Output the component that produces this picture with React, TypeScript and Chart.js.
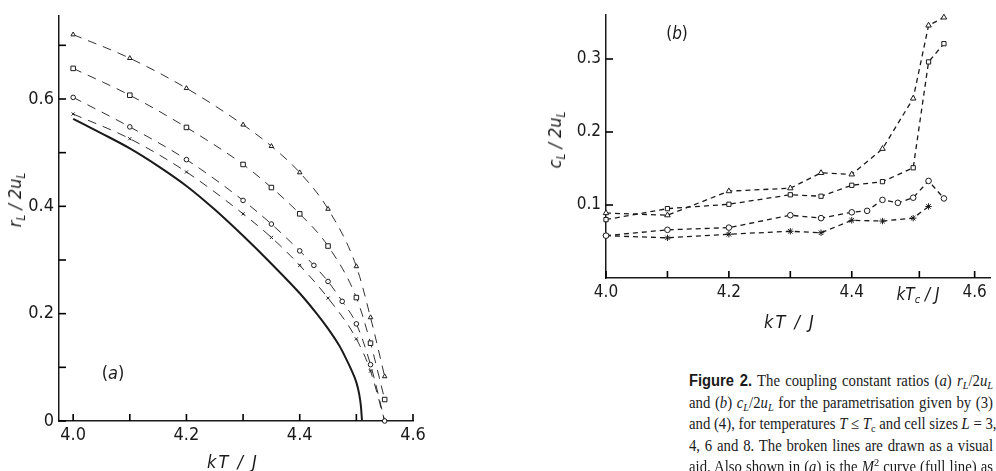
import React, { useEffect, useRef } from "react";
import { Chart, registerables } from "chart.js";
Chart.register(...registerables);

// ---------- Panel (a): r_L / 2u_L ----------
const xA = [4.0, 4.1, 4.2, 4.3, 4.35, 4.4, 4.45, 4.5, 4.525, 4.55];
const aL8 = [0.72, 0.676, 0.62, 0.552, 0.512, 0.463, 0.395, 0.288, 0.193, 0.083];
const aL6 = [0.657, 0.607, 0.547, 0.478, 0.435, 0.386, 0.326, 0.23, 0.145, 0.04];
const xA4 = [4.0, 4.1, 4.2, 4.3, 4.35, 4.4, 4.425, 4.45, 4.475, 4.5, 4.525, 4.55];
const aL4 = [0.603, 0.548, 0.487, 0.411, 0.367, 0.317, 0.29, 0.26, 0.223, 0.181, 0.105, 0.0];
const aL3 = [0.572, 0.526, 0.464, 0.386, 0.342, 0.29, 0.229, 0.153, 0.093, 0.0];
const xM2 = [4.0, 4.05, 4.1, 4.15, 4.2, 4.25, 4.3, 4.35, 4.4, 4.43, 4.45, 4.47, 4.48, 4.49, 4.5, 4.505, 4.508, 4.51];
const yM2 = [0.563, 0.536, 0.508, 0.475, 0.438, 0.394, 0.345, 0.293, 0.238, 0.2, 0.172, 0.14, 0.12, 0.098, 0.072, 0.05, 0.028, 0.0];
const xTicksA = [4.0, 4.1, 4.2, 4.3, 4.4, 4.5, 4.6];
const xLabelsA = ["4.0", "", "4.2", "", "4.4", "", "4.6"];
const yTicksA = [0, 0.1, 0.2, 0.3, 0.4, 0.5, 0.6, 0.7];
const yLabelsA = ["0", "", "0.2", "", "0.4", "", "0.6", ""];

// ---------- Panel (b): c_L / 2u_L ----------
const xB = [4.0, 4.1, 4.2, 4.3, 4.35, 4.4, 4.45, 4.5, 4.525, 4.55];
const bL8 = [0.089, 0.086, 0.119, 0.123, 0.144, 0.142, 0.177, 0.246, 0.346, 0.357];
const bL6 = [0.08, 0.095, 0.101, 0.114, 0.112, 0.127, 0.132, 0.151, 0.296, 0.321];
const xB4 = [4.0, 4.1, 4.2, 4.3, 4.35, 4.4, 4.425, 4.45, 4.475, 4.5, 4.525, 4.55];
const bL4 = [0.058, 0.066, 0.069, 0.086, 0.082, 0.09, 0.092, 0.107, 0.103, 0.11, 0.133, 0.109];
const xB3 = [4.0, 4.1, 4.2, 4.3, 4.35, 4.4, 4.45, 4.5, 4.525];
const bL3 = [0.058, 0.055, 0.06, 0.064, 0.062, 0.079, 0.078, 0.082, 0.098];
const xTicksB = [4.0, 4.1, 4.2, 4.3, 4.4, 4.51, 4.6];
const xLabelsB = ["4.0", "", "4.2", "", "4.4", "", "4.6"];
const yTicksB = [0.1, 0.2, 0.3];
const yLabelsB = ["0.1", "0.2", "0.3"];

const INK = "#1a1a1a";
const LETTER = '"Liberation Sans Narrow", "DejaVu Sans Condensed", "Roboto", sans-serif';

const pts = (xs: number[], ys: number[]) => xs.map((x, i) => ({ x, y: ys[i] }));

// inward tick marks drawn from the library's own scales
const inwardTicks = {
  id: "inwardTicks",
  afterDraw(chart: any) {
    const ctx = chart.ctx as CanvasRenderingContext2D;
    const a = chart.chartArea;
    const sx = chart.scales.x;
    const sy = chart.scales.y;
    ctx.save();
    ctx.setLineDash([]);
    ctx.strokeStyle = "#000";
    ctx.lineWidth = 1.6;
    for (const t of sx.ticks) {
      const px = sx.getPixelForValue(t.value);
      ctx.beginPath();
      ctx.moveTo(px, a.bottom);
      ctx.lineTo(px, a.bottom - 7);
      ctx.stroke();
    }
    for (const t of sy.ticks) {
      const py = sy.getPixelForValue(t.value);
      ctx.beginPath();
      ctx.moveTo(a.left, py);
      ctx.lineTo(a.left + 7, py);
      ctx.stroke();
    }
    ctx.restore();
  },
};

function axis(
  min: number,
  max: number,
  ticks: number[],
  labels: string[],
  size: number,
  fontSize: number,
  isX: boolean,
  pad: number
) {
  return {
    type: "linear",
    min,
    max,
    afterBuildTicks: (s: any) => {
      s.ticks = ticks.map((v) => ({ value: v }));
    },
    afterFit: (s: any) => {
      if (isX) s.height = size;
      else s.width = size;
    },
    ticks: {
      autoSkip: false,
      maxRotation: 0,
      padding: pad,
      color: INK,
      font: { family: LETTER, size: fontSize },
      callback: (_v: any, i: number) => labels[i],
    },
    grid: {
      drawOnChartArea: false,
      drawTicks: false,
    },
    border: { display: true, color: INK, width: 1.5 },
  };
}

function dashed(data: any[], style: string, radius: number, dash: number[], width: number) {
  return {
    data,
    borderColor: INK,
    borderWidth: width,
    borderDash: dash,
    pointStyle: style,
    pointRadius: radius,
    pointBorderColor: INK,
    pointBackgroundColor: "#fff",
    pointBorderWidth: 1,
    tension: 0,
    clip: false,
  };
}

function PanelA() {
  const ref = useRef<HTMLCanvasElement>(null);
  useEffect(() => {
    const dA = [9, 7];
    const chart = new Chart(ref.current as HTMLCanvasElement, {
      type: "line",
      data: {
        datasets: [
          { ...dashed(pts(xA, aL8), "triangle", 2.6, dA, 0.9), cubicInterpolationMode: "monotone" },
          { ...dashed(pts(xA, aL6), "rect", 3.2, dA, 0.9), cubicInterpolationMode: "monotone" },
          { ...dashed(pts(xA4, aL4), "circle", 2.3, dA, 0.9), cubicInterpolationMode: "monotone" },
          { ...dashed(pts(xA, aL3), "crossRot", 2.2, dA, 0.9), cubicInterpolationMode: "monotone" },
          {
            data: pts(xM2, yM2),
            borderColor: INK,
            borderWidth: 2,
            pointRadius: 0,
            cubicInterpolationMode: "monotone",
            clip: false,
          },
        ],
      } as any,
      options: {
        responsive: false,
        animation: false,
        events: [],
        layout: { padding: { top: 8, right: 37, left: 0, bottom: 0 } },
        plugins: { legend: { display: false }, tooltip: { enabled: false } },
        scales: {
          x: axis(3.975, 4.6, xTicksA, xLabelsA, 50, 18, true, 4),
          y: axis(0, 0.755, yTicksA, yLabelsA, 59, 18, false, 5),
        } as any,
      },
      plugins: [inwardTicks],
    });
    return () => chart.destroy();
  }, []);
  return <canvas ref={ref} width={450} height={471} style={{ position: "absolute", left: 0, top: 0 }} />;
}

function PanelB() {
  const ref = useRef<HTMLCanvasElement>(null);
  useEffect(() => {
    const dB = [5, 4];
    const chart = new Chart(ref.current as HTMLCanvasElement, {
      type: "line",
      data: {
        datasets: [
          dashed(pts(xB, bL8), "triangle", 3.2, dB, 1.3),
          dashed(pts(xB, bL6), "rect", 3.0, dB, 1.3),
          dashed(pts(xB4, bL4), "circle", 2.8, dB, 1.3),
          dashed(pts(xB3, bL3), "star", 3.2, dB, 1.3),
        ],
      } as any,
      options: {
        responsive: false,
        animation: false,
        events: [],
        layout: { padding: { top: 10, right: 6, left: 0, bottom: 0 } },
        plugins: { legend: { display: false }, tooltip: { enabled: false } },
        scales: {
          x: axis(4.0, 4.625, xTicksB, xLabelsB, 62, 17, true, 4),
          y: axis(0, 0.36, yTicksB, yLabelsB, 106, 17, false, 5),
        } as any,
      },
      plugins: [inwardTicks],
    });
    return () => chart.destroy();
  }, []);
  return <canvas ref={ref} width={496} height={340} style={{ position: "absolute", left: 500, top: 0 }} />;
}

const lbl: React.CSSProperties = {
  position: "absolute",
  fontFamily: LETTER,
  fontStyle: "italic",
  fontSize: 18,
  color: INK,
  whiteSpace: "nowrap",
  lineHeight: 1,
};
const subS: React.CSSProperties = { fontSize: "0.65em", verticalAlign: "-0.3em", lineHeight: 0 };

const CAP_W = 330;
const capLine: React.CSSProperties = {
  position: "absolute",
  left: 689,
  width: CAP_W,
  transform: `scaleX(${304 / CAP_W})`,
  transformOrigin: "0 0",
  fontFamily: '"Liberation Serif", "DejaVu Serif", serif',
  fontSize: 16,
  color: INK,
  whiteSpace: "nowrap",
  textAlign: "justify",
  textAlignLast: "justify",
  lineHeight: "20px",
};
const csub: React.CSSProperties = { fontSize: "0.7em", verticalAlign: "-0.3em", lineHeight: 0 };

export default function App() {
  return (
    <div
      style={{
        position: "absolute",
        left: 0,
        top: 0,
        width: 996,
        height: 471,
        overflow: "hidden",
        background: "#fff",
      }}
    >
      <PanelA />
      <PanelB />
      {/* panel a labels */}
      <div style={{ ...lbl, left: 15, top: 200, transform: "translate(-50%,-50%) rotate(-90deg)" }}>
        r<span style={subS}>L</span> / 2u<span style={subS}>L</span>
      </div>
      <div style={{ ...lbl, left: 233, top: 462, transform: "translate(-50%,-50%)", letterSpacing: 2 }}>kT / J</div>
      <div style={{ ...lbl, left: 113, top: 373, transform: "translate(-50%,-50%)", fontStyle: "normal" }}>
        (<i>a</i>)
      </div>
      {/* panel b labels */}
      <div style={{ ...lbl, left: 555, top: 140, transform: "translate(-50%,-50%) rotate(-90deg)" }}>
        c<span style={subS}>L</span> / 2u<span style={subS}>L</span>
      </div>
      <div style={{ ...lbl, left: 790, top: 322, transform: "translate(-50%,-50%)", letterSpacing: 2 }}>kT / J</div>
      <div style={{ ...lbl, left: 918, top: 294, transform: "translate(-50%,-50%)", fontSize: 17 }}>
        kT<span style={subS}>c</span> / J
      </div>
      <div style={{ ...lbl, left: 677, top: 33, transform: "translate(-50%,-50%)", fontStyle: "normal", fontSize: 17 }}>
        (<i>b</i>)
      </div>
      {/* caption */}
      <div style={{ ...capLine, top: 371 }}>
        <b style={{ fontFamily: '"Liberation Sans", Arial, sans-serif' }}>Figure 2.</b> The coupling constant ratios (<i>a</i>){" "}
        <i>r</i><span style={csub}><i>L</i></span>/2<i>u</i><span style={csub}><i>L</i></span>
      </div>
      <div style={{ ...capLine, top: 393 }}>
        and (<i>b</i>) <i>c</i><span style={csub}><i>L</i></span>/2<i>u</i><span style={csub}><i>L</i></span> for the
        parametrisation given by (3)
      </div>
      <div style={{ ...capLine, top: 414 }}>
        and (4), for temperatures <i>T</i> ≤ <i>T</i><span style={csub}>c</span> and cell sizes <i>L</i> = 3,
      </div>
      <div style={{ ...capLine, top: 436 }}>4, 6 and 8. The broken lines are drawn as a visual</div>
      <div style={{ ...capLine, top: 457 }}>
        aid. Also shown in (<i>a</i>) is the <i>M</i><sup style={{ fontSize: "0.7em", lineHeight: 0 }}>2</sup> curve (full
        line) as
      </div>
    </div>
  );
}
